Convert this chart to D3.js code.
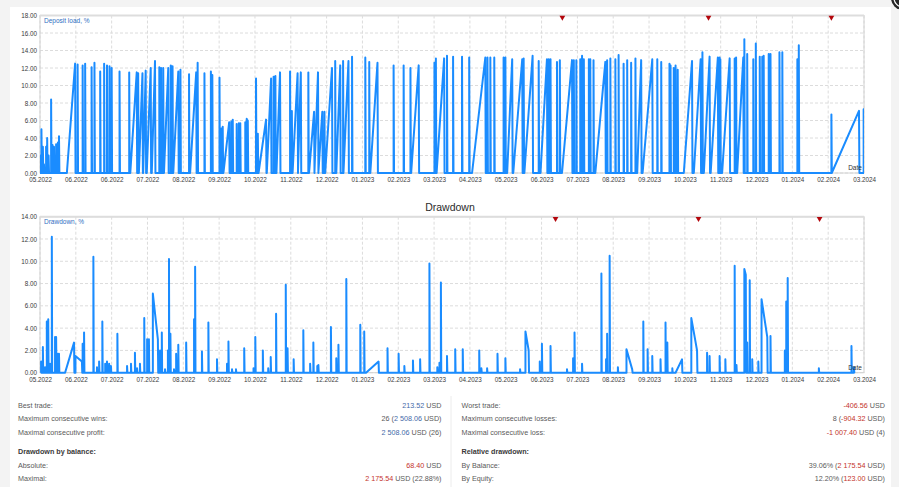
<!DOCTYPE html>
<html>
<head>
<meta charset="utf-8">
<script src="https://cdn.jsdelivr.net/npm/d3@7"></script>
<style>
body { margin: 0; background: #f3f3f3; }
svg { display: block; }
text { font-family: "Liberation Sans", Arial, sans-serif; }
</style>
</head>
<body>
<svg width="899" height="487"></svg>
<script>
// x values are in label periods (0 = first label, 23 = last label)
const loadLabels = ["05.2022","06.2022","06.2022","07.2022","08.2022","09.2022","10.2022","11.2022","12.2022","01.2023","02.2023","03.2023","04.2023","05.2023","06.2023","07.2023","08.2023","09.2023","10.2023","11.2023","12.2023","01.2024","02.2024","03.2024"];
const ddLabels = ["05.2022","06.2022","07.2022","07.2022","08.2022","09.2022","10.2022","11.2022","12.2022","01.2023","02.2023","03.2023","04.2023","05.2023","06.2023","07.2023","08.2023","09.2023","10.2023","11.2023","12.2023","01.2024","02.2024","03.2024"];
const loadTicks = [0, 2, 4, 6, 8, 10, 12, 14, 16, 18];
const ddTicks = [0, 2, 4, 6, 8, 10, 12, 14];

// deposit load: [rise starts, peak time, load %]
const loadTrades = [
  [0,0,2.0],[0.04,0.04,5.0],[0.08,0.08,3.0],[0.11,0.11,1.0],[0.17,0.17,3.0],[0.20,0.20,4.0],[0.24,0.24,2.0],
  [0.31,0.31,8.4],[0.35,0.35,3.2],[0.39,0.39,3.0],[0.45,0.45,3.3],[0.47,0.47,2.3],[0.50,0.50,3.5],[0.53,0.53,4.2],
  [0.75,0.98,12.5],[1.05,1.05,12.4],[1.19,1.19,12.3],[1.26,1.26,12.5],[1.44,1.44,12.1],[1.52,1.52,12.6],
  [1.68,1.68,11.6],[1.79,1.79,12.5],[1.87,1.87,12.3],[1.94,1.94,12.2],[2.00,2.00,12.0],[2.22,2.22,11.6],
  [2.49,2.49,11.5],[2.52,2.70,11.5],[2.74,2.74,11.4],[2.76,2.86,11.4],[2.88,2.95,11.7],[2.98,3.09,12.0],
  [3.12,3.21,12.8],[3.33,3.33,12.1],[3.38,3.38,12.0],[3.44,3.44,12.0],[3.46,3.58,12.0],[3.65,3.65,12.3],
  [3.70,3.70,12.2],[3.72,3.86,11.6],[3.92,3.92,11.8],[4.16,4.16,11.3],[4.19,4.36,11.5],[4.40,4.40,12.6],
  [4.59,4.59,11.4],[4.77,4.77,11.6],[4.81,4.81,11.2],[5.01,5.01,10.9],[5.06,5.06,5.1],[5.10,5.10,5.3],
  [5.12,5.28,5.8],[5.34,5.34,5.9],[5.38,5.38,6.1],[5.49,5.49,5.6],[5.55,5.55,5.7],[5.59,5.59,5.7],
  [5.73,5.73,5.8],[5.77,5.77,6.2],[5.80,5.80,6.0],[6.03,6.03,10.8],[6.08,6.08,4.5],[6.10,6.31,6.1],
  [6.33,6.45,10.8],[6.52,6.52,11.0],[6.57,6.57,11.1],[6.60,6.70,11.5],[6.98,6.98,11.6],[7.03,7.03,7.1],
  [7.05,7.19,11.4],[7.20,7.28,11.5],[7.49,7.49,11.5],[7.51,7.65,7.0],[7.66,7.76,11.5],[7.77,7.88,7.0],
  [7.94,7.94,7.0],[7.96,8.15,12.0],[8.24,8.24,12.8],[8.27,8.38,12.3],[8.46,8.46,12.8],[8.47,8.61,12.8],
  [8.71,8.71,13.3],[9.08,9.08,13.2],[9.19,9.19,12.7],[9.22,9.42,12.6],[9.87,9.87,12.3],[10.15,10.15,12.3],
  [10.34,10.34,12.0],[10.36,10.57,12.3],[11.01,11.01,12.6],[11.05,11.05,13.1],[11.07,11.28,13.1],
  [11.36,11.36,13.4],[11.53,11.53,13.3],[11.78,11.78,13.3],[11.98,11.98,13.2],[12.06,12.43,13.2],
  [12.49,12.49,13.2],[12.57,12.57,13.2],[12.68,12.68,13.2],[12.94,12.94,13.2],[12.99,12.99,13.2],
  [13.04,13.18,13.0],[13.21,13.46,13.0],[13.50,13.50,13.1],[13.52,13.75,13.4],[13.92,13.92,12.8],
  [13.97,14.15,13.0],[14.20,14.20,13.0],[14.25,14.25,13.0],[14.43,14.43,12.7],[14.51,14.51,12.9],
  [14.57,14.85,12.9],[14.90,14.90,12.9],[14.97,14.97,12.9],[15.08,15.08,13.0],[15.13,15.13,13.4],
  [15.18,15.18,13.0],[15.32,15.32,13.0],[15.36,15.36,13.0],[15.45,15.45,12.9],[15.50,15.78,12.7],
  [15.83,15.83,12.9],[15.92,15.92,13.1],[16.06,16.06,13.0],[16.15,16.15,13.5],[16.29,16.29,12.5],
  [16.39,16.39,12.9],[16.50,16.50,12.6],[16.62,16.62,13.1],[16.67,16.78,12.9],[16.82,17.09,13.0],
  [17.23,17.23,13.0],[17.34,17.34,12.7],[17.57,17.57,12.5],[17.60,17.60,12.3],[17.69,17.69,12.0],
  [17.74,17.74,12.3],[17.80,17.80,11.8],[17.97,18.20,12.8],[18.25,18.44,13.0],[18.49,18.49,13.8],
  [18.53,18.69,13.3],[18.72,18.92,13.2],[18.97,18.97,13.2],[18.99,18.99,13.0],[19.04,19.25,13.1],
  [19.39,19.39,13.1],[19.43,19.43,13.2],[19.46,19.63,13.2],[19.66,19.66,15.3],[19.74,19.74,13.6],
  [19.91,19.91,13.0],[19.98,19.98,14.8],[20.09,20.09,13.3],[20.16,20.16,13.3],[20.20,20.20,13.4],
  [20.34,20.34,13.6],[20.39,20.39,13.6],[20.64,20.64,13.8],[20.72,20.72,13.8],[21.14,21.14,13.0],
  [21.18,21.18,14.6],[22.09,22.09,6.7],[22.10,22.86,7.1],[22.99,22.99,7.3]
];

// drawdown: [time, %] or [time, %, decay end, % at end] or [ramp start, time, %, decay end, % at end]
const ddSpikes = [
  [0.03,1.0],[0.08,2.3],[0.14,0.5],[0.19,4.6],[0.23,4.8],[0.28,0.8],[0.33,12.2],[0.42,3.2],[0.45,3.2],
  [0.50,1.7],[0.53,1.7],[0.70,0.95,2.7,0.95,2.7],[0.99,1.5,1.17,1.0],[1.19,2.6],[1.23,3.6],[1.49,10.4],
  [1.59,0.5],[1.65,1.0],[1.74,4.6],[1.82,0.8],[1.87,1.0],[1.93,0.8],[1.98,0.6],[2.16,3.5],[2.43,0.6],
  [2.54,0.8],[2.65,1.8],[2.71,0.4],[2.79,0.8],[2.91,4.9],[2.99,3.0],[3.04,3.0],[3.15,7.1,3.29,3.0],
  [3.35,2.0],[3.40,3.6],[3.49,0.3],[3.57,2.0],[3.60,10.2],[3.64,3.5],[3.74,0.3],[3.80,1.7],[3.86,2.5],
  [4.08,2.7],[4.30,4.8],[4.33,9.5],[4.52,1.9],[4.70,4.5],[4.94,1.2],[5.22,0.8],[5.26,2.8],[5.36,0.3],
  [5.47,0.3],[5.70,2.2],[5.96,0.4],[6.01,3.2],[6.22,2.0],[6.37,0.4],[6.44,1.4],[6.59,5.3],[6.86,7.9],
  [6.91,2.2],[7.08,1.2],[7.35,3.8],[7.54,0.8],[7.63,2.7],[7.74,0.6],[7.77,0.7],[8.12,4.1],[8.27,1.3],
  [8.33,2.5],[8.55,8.4],[8.94,4.3],[9.05,3.7],[9.10,9.45,1.0,9.45,1.0],[9.70,2.2],[10.01,1.7],[10.17,0.6],
  [10.41,1.1],[10.61,1.2],[10.87,9.8],[11.09,0.5],[11.15,0.9],[11.19,8.1],[11.36,1.5],[11.59,2.1],
  [11.80,2.1],[12.26,2.0],[12.32,0.4],[12.48,0.4],[12.77,1.7],[12.99,1.3],[13.40,0.3],[13.55,3.7,13.64,2.0],
  [13.95,1.0],[14.01,2.6],[14.25,2.4],[14.71,0.3],[14.88,1.3],[14.92,3.6],[15.13,0.8],[15.67,8.9],
  [15.80,1.2],[15.83,3.5],[15.90,10.5],[16.13,0.5],[16.37,2.1,16.53,0.3],[16.84,4.6],[16.96,2.1],
  [17.09,1.5],[17.32,1.2],[17.46,4.5],[17.51,2.7],[17.65,0.4],[17.74,17.92,1.2,17.92,1.2],
  [18.18,4.9,18.34,2.0],[18.62,1.8],[18.69,1.5],[18.97,1.5],[19.13,1.2],[19.39,9.6],[19.44,0.7],
  [19.66,9.3,19.70,8.8],[19.74,2.7],[19.81,8.3],[19.88,1.2],[20.05,1.0],[20.14,6.6,20.30,3.2],
  [20.39,3.3],[20.79,2.0],[20.83,6.4],[20.87,8.5],[21.74,0.4],[22.65,2.4],[22.72,0.5]
];

const loadEvents = [14.58, 18.66, 22.09];
const ddEvents = [14.39, 18.38, 21.76];

const statsLeft = [
  ["Best trade:", [["213.52", "pos"], [" USD", ""]]],
  ["Maximum consecutive wins:", [["26 (", ""], ["2 508.06", "pos"], [" USD)", ""]]],
  ["Maximal consecutive profit:", [["2 508.06", "pos"], [" USD (26)", ""]]],
  ["Drawdown by balance:", null],
  ["Absolute:", [["68.40", "neg"], [" USD", ""]]],
  ["Maximal:", [["2 175.54", "neg"], [" USD (22.88%)", ""]]]
];
const statsRight = [
  ["Worst trade:", [["-406.56", "neg"], [" USD", ""]]],
  ["Maximum consecutive losses:", [["8 (", ""], ["-904.32", "neg"], [" USD)", ""]]],
  ["Maximal consecutive loss:", [["-1 007.40", "neg"], [" USD (4)", ""]]],
  ["Relative drawdown:", null],
  ["By Balance:", [["39.06% (", ""], ["2 175.54", "neg"], [" USD)", ""]]],
  ["By Equity:", [["12.20% (", ""], ["123.00", "neg"], [" USD)", ""]]]
];

const svg = d3.select("svg");
const lineColor = "#1a8cff";
const colors = { pos: "#3f69a8", neg: "#c4332b", "": "#5a5a5a" };

// page card
svg.append("rect").attr("x", 10).attr("y", 7).attr("width", 881).attr("height", 480).attr("fill", "#fff");
svg.append("circle").attr("cx", 903).attr("cy", -2).attr("r", 12).attr("fill", "#262626");
svg.append("circle").attr("cx", 903).attr("cy", -2).attr("r", 9).attr("fill", "none")
  .attr("stroke", "#fff").attr("stroke-width", 1.2);

function loadPoints(trades) {
  const pts = [];
  trades.forEach(([o, p, v]) => { pts.push([o, 0], [p, v], [p + 0.012, 0]); });
  return pts;
}

function ddPoints(spikes) {
  const pts = [];
  spikes.forEach(s => {
    if (s.length === 2) pts.push([s[0], 0], [s[0], s[1]], [s[0] + 0.01, 0]);
    else if (s.length === 4) pts.push([s[0], 0], [s[0], s[1]], [s[2], s[3]], [s[2] + 0.01, 0]);
    else pts.push([s[0], 0], [s[1], s[2]], [s[3], s[4]], [s[3] + 0.01, 0]);
  });
  return pts;
}

function drawChart(opt) {
  const x = d3.scaleLinear().domain([0, 23]).range([40, 864]);
  const y = d3.scaleLinear().domain([0, opt.max]).range([opt.bottom, opt.top]);
  const g = svg.append("g");

  // grid
  g.append("g")
    .selectAll("line.h").data(opt.yTicks).join("line")
      .attr("x1", 40).attr("x2", 864)
      .attr("y1", d => y(d)).attr("y2", d => y(d))
      .attr("stroke", "#dcdcdc").attr("stroke-dasharray", "3,2");
  g.append("g")
    .selectAll("line.v").data(d3.range(24)).join("line")
      .attr("x1", d => x(d)).attr("x2", d => x(d))
      .attr("y1", opt.top).attr("y2", opt.bottom)
      .attr("stroke", "#dcdcdc").attr("stroke-dasharray", "3,2");

  g.append("rect")
    .attr("x", 40).attr("y", opt.top).attr("width", 824).attr("height", opt.bottom - opt.top)
    .attr("fill", "none").attr("stroke", "#d2d2d2");
  g.append("line")
    .attr("x1", 40).attr("x2", 864).attr("y1", opt.top).attr("y2", opt.top)
    .attr("stroke", "#dddddd").attr("stroke-width", 2);

  // axes
  const yAxis = g.append("g")
    .attr("transform", "translate(40,0)")
    .call(d3.axisLeft(y).tickValues(opt.yTicks).tickFormat(d3.format(".2f")).tickSize(0).tickPadding(3));
  const xAxis = g.append("g")
    .attr("transform", `translate(0,${opt.bottom})`)
    .call(d3.axisBottom(x).tickValues(d3.range(24)).tickFormat(i => opt.labels[i]).tickSize(0).tickPadding(5));
  [yAxis, xAxis].forEach(a => {
    a.select(".domain").remove();
    a.selectAll("text").attr("font-size", 6.3).attr("fill", "#3a3a3a")
      .attr("font-family", "'Liberation Sans', Arial, sans-serif");
  });

  // series
  const clipId = "clip" + Math.round(opt.top);
  svg.append("clipPath").attr("id", clipId).append("rect")
    .attr("x", 40).attr("y", opt.top).attr("width", 824).attr("height", opt.bottom - opt.top + 1.5);
  const line = d3.line().x(d => x(d[0])).y(d => y(d[1]));
  g.append("path")
    .attr("clip-path", `url(#${clipId})`)
    .attr("d", line(opt.points))
    .attr("fill", "none").attr("stroke", lineColor).attr("stroke-width", 2)
    .attr("stroke-linejoin", "round");

  // event markers
  g.selectAll("path.ev").data(opt.events).join("path")
    .attr("d", d3.symbol(d3.symbolTriangle, 14)())
    .attr("transform", d => `translate(${x(d)},${opt.top + 2}) rotate(180)`)
    .attr("fill", "#b3060c");

  g.append("text").attr("x", 44).attr("y", opt.top + 7.5)
    .attr("font-size", 6.5).attr("fill", "#2f6fc2").text(opt.legend);
  g.append("text").attr("x", 855).attr("y", opt.bottom - 3)
    .attr("text-anchor", "middle").attr("font-size", 6.5).attr("fill", "#333").text("Date");
}

drawChart({ top: 15.5, bottom: 173, max: 18, yTicks: loadTicks, labels: loadLabels,
  points: loadPoints(loadTrades), events: loadEvents, legend: "Deposit load, %" });

svg.append("text").attr("x", 450).attr("y", 210.5).attr("text-anchor", "middle")
  .attr("font-size", 10.5).attr("fill", "#2a2a2a")
  .attr("font-family", "'DejaVu Sans', sans-serif").text("Drawdown");

drawChart({ top: 216.7, bottom: 372.7, max: 14, yTicks: ddTicks, labels: ddLabels,
  points: ddPoints(ddSpikes), events: ddEvents, legend: "Drawdown, %" });

// statistics table
const rowY = [405, 418.5, 432, 451.5, 465, 478.5];
svg.append("line").attr("x1", 451).attr("x2", 451).attr("y1", 396).attr("y2", 487)
  .attr("stroke", "#ececec");

function drawStats(rows, xLabel, xValue) {
  rows.forEach(([label, parts], i) => {
    svg.append("text").attr("x", xLabel).attr("y", rowY[i]).attr("dy", "0.35em")
      .attr("font-size", 7.2)
      .attr("fill", parts ? "#5a5a5a" : "#3a3a3a")
      .attr("font-weight", parts ? null : "bold")
      .text(label);
    if (!parts) return;
    const t = svg.append("text").attr("x", xValue).attr("y", rowY[i]).attr("dy", "0.35em")
      .attr("text-anchor", "end").attr("font-size", 7.2);
    parts.forEach(([s, c]) => t.append("tspan").attr("fill", colors[c]).text(s));
  });
}
drawStats(statsLeft, 18, 441.5);
drawStats(statsRight, 461.5, 885);
</script>
</body>
</html>
